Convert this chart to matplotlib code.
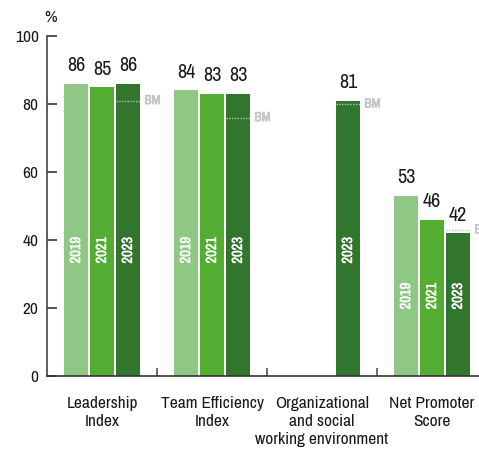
import numpy as np
import matplotlib
matplotlib.use("Agg")
import matplotlib.pyplot as plt
import matplotlib.patheffects as pe

plt.rcParams['font.family'] = ['Archivo Narrow', 'DejaVu Sans']

categories = ["Leadership\nIndex", "Team Efficiency\nIndex",
              "Organizational\nand social\nworking environment", "Net Promoter\nScore"]
years = ["2019", "2021", "2023"]
scores = {
    "2019": [86, 84, None, 53],
    "2021": [85, 83, None, 46],
    "2023": [86, 83, 81, 42],
}
benchmark = [81, 76, 80, 43]
year_label_top = [41, 41, 41, 27.5]

colors = ["#8fc885", "#53ad33", "#32762e"]
bar_w = 0.218
step = 0.236

fig = plt.figure(figsize=(4.79, 4.55), dpi=100)
ax = fig.add_axes([47 / 479, 79 / 455, 432 / 479, 340 / 455])

x = np.arange(len(categories))
for k, yr in enumerate(years):
    off = (k - 1) * step
    for i, v in enumerate(scores[yr]):
        if v is None:
            continue
        xi = x[i] + off
        ax.bar(xi, v, width=bar_w, color=colors[k], zorder=2)
        ax.annotate(str(v), (xi, v), xytext=(0, 6), textcoords="offset points",
                    ha="center", va="bottom", fontsize=14.5, color="#1a1a1a",
                    annotation_clip=False)
        ax.text(xi, year_label_top[i], yr, rotation=90, ha="center", va="top",
                fontsize=10.5, color="white", zorder=3,
                path_effects=[pe.withStroke(linewidth=0.35, foreground="white")])

# benchmark markers on the 2023 bars
for i, bm in enumerate(benchmark):
    xr = x[i] + step
    ax.plot([xr - bar_w / 2, xr + bar_w / 2], [bm, bm], linestyle=(0, (1, 1)),
            color="#bdbdbd", lw=1, zorder=4, clip_on=False)
    ax.text(xr + bar_w / 2 + 0.04, bm, "BM", ha="left", va="center",
            fontsize=9.5, color="#c4c4c4", clip_on=False,
            path_effects=[pe.withStroke(linewidth=0.4, foreground="#c4c4c4")])

ax.set_xlim(-0.5, 3.427)
ax.set_ylim(0, 100)
ax.set_yticks([0, 20, 40, 60, 80, 100])
ax.tick_params(axis="y", direction="in", length=7, width=1.2, color="#333333",
               labelsize=12.5, pad=6)
for lbl in ax.get_yticklabels():
    lbl.set_color("#1a1a1a")
ax.set_xticks([0.5, 1.5, 2.5])
ax.set_xticklabels([])
ax.tick_params(axis="x", direction="in", length=6, width=1.2, color="#555555")

for i, c in enumerate(categories):
    ax.text(x[i], -6, c, ha="center", va="top", fontsize=12.5, color="#1a1a1a",
            linespacing=1.25, transform=ax.transData)

for side in ["top", "right"]:
    ax.spines[side].set_visible(False)
ax.spines["left"].set_color("#444444")
ax.spines["left"].set_linewidth(1.2)
ax.spines["bottom"].set_color("#333333")
ax.spines["bottom"].set_linewidth(1.2)

fig.text(51 / 479, 1 - 18 / 455, "%", ha="center", va="center", fontsize=12.5,
         color="#1a1a1a")

fig.savefig("out.png", dpi=100)
